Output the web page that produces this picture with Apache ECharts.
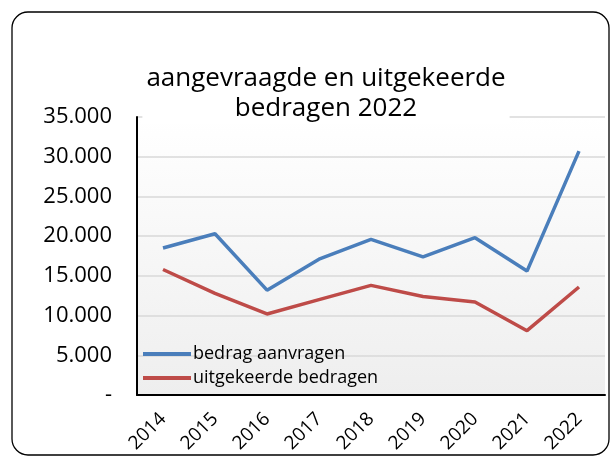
<!DOCTYPE html>
<html>
<head>
<meta charset="utf-8">
<script src="https://cdn.jsdelivr.net/npm/echarts@6/dist/echarts.min.js"></script>
<style>
  html, body { margin: 0; padding: 0; background: #fff; }
  #chart { width: 611px; height: 457px; }
</style>
</head>
<body>
<div id="chart"></div>
<script>
var years = ["2014", "2015", "2016", "2017", "2018", "2019", "2020", "2021", "2022"];
var aanvragen = [18500, 20300, 13200, 17100, 19600, 17400, 19800, 15600, 30700];
var uitgekeerd = [15800, 12800, 10200, 12000, 13800, 12400, 11700, 8100, 13600];
var yTicks = [0, 5000, 10000, 15000, 20000, 25000, 30000, 35000];

(function() {
  var myChart = echarts.init(document.getElementById("chart"));
  var font = "'Open Sans', 'Noto Sans', sans-serif";

  function fmt(v) {
    if (v === 0) return "-";
    return String(v).replace(/\B(?=(\d{3})+(?!\d))/g, ".");
  }

  var option = {
    animation: false,
    textStyle: { fontFamily: font },
    color: ["#4a7ebb", "#be4b48"],
    graphic: [
      {
        type: "rect",
        shape: { x: 12, y: 12, width: 597, height: 443, r: 16 },
        style: { fill: "none", stroke: "#000", lineWidth: 1.3 },
        z: 100
      }
    ],
    title: {
      text: "aangevraagde en uitgekeerde\nbedragen 2022",
      left: 322,
      textAlign: "center",
      top: 64,
      padding: [0, 4],
      backgroundColor: "#fff",
      textStyle: {
        fontFamily: font,
        fontSize: 26,
        lineHeight: 30,
        fontWeight: "normal",
        color: "#000"
      }
    },
    legend: {
      orient: "vertical",
      left: 138,
      top: 338,
      icon: "rect",
      itemWidth: 48,
      itemHeight: 4,
      itemGap: 2,
      textStyle: { fontFamily: font, fontSize: 18, lineHeight: 22, color: "#000", padding: [0, 0, 0, -3] },
      data: ["bedrag aanvragen", "uitgekeerde bedragen"]
    },
    grid: {
      left: 137,
      top: 117,
      right: 6,
      bottom: 62,
      show: true,
      borderWidth: 0,
      backgroundColor: {
        type: "linear", x: 0, y: 0, x2: 0, y2: 1,
        colorStops: [
          { offset: 0, color: "#ffffff" },
          { offset: 1, color: "#eeeeee" }
        ]
      }
    },
    xAxis: {
      type: "category",
      data: years,
      boundaryGap: true,
      axisLine: { lineStyle: { color: "#000", width: 2 } },
      axisTick: { show: false },
      axisLabel: { rotate: 45, fontSize: 19, color: "#000", margin: 21, fontFamily: font },
      splitLine: { show: false }
    },
    yAxis: {
      type: "value",
      min: yTicks[0],
      max: yTicks[yTicks.length - 1],
      interval: 5000,
      axisLine: { show: true, lineStyle: { color: "#000", width: 2 } },
      axisTick: { show: false },
      axisLabel: { fontSize: 22, color: "#000", margin: 25, formatter: fmt, fontFamily: font },
      splitLine: { lineStyle: { color: "#d9d9d9", width: 1.5 } }
    },
    series: [
      {
        name: "bedrag aanvragen",
        type: "line",
        data: aanvragen,
        symbol: "none",
        lineStyle: { width: 3.5 }
      },
      {
        name: "uitgekeerde bedragen",
        type: "line",
        data: uitgekeerd,
        symbol: "none",
        lineStyle: { width: 3.5 }
      }
    ]
  };
  myChart.setOption(option);
  window.addEventListener("resize", function() {
    myChart.resize();
  });
})();
</script>
</body>
</html>
